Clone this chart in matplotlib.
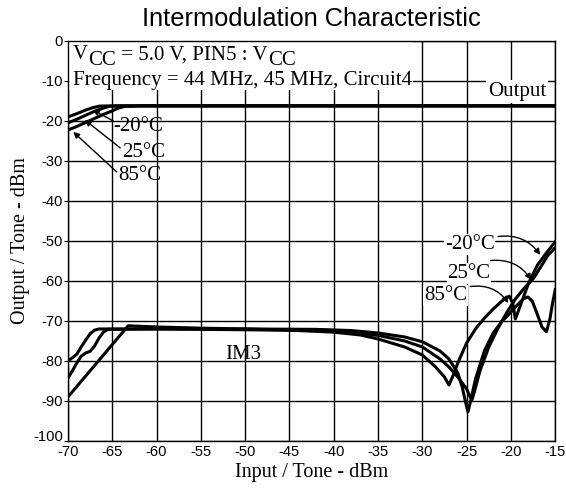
import matplotlib
matplotlib.use("Agg")
import matplotlib.pyplot as plt
import matplotlib.transforms as mtransforms
from matplotlib.patches import Rectangle

plt.rcParams['mathtext.fontset'] = 'custom'
plt.rcParams['mathtext.rm'] = 'Liberation Serif'
SERIF = 'Liberation Serif'
SANS = 'Liberation Sans'

# ---- data ----
x_ticks = [-70, -65, -60, -55, -50, -45, -40, -35, -30, -25, -20, -15]
y_ticks = [0, -10, -20, -30, -40, -50, -60, -70, -80, -90, -100]

# Output curves
out_m20_x = [-70, -69, -68, -67.2, -66.4, -65, -15]
out_m20_y = [-19.0, -18.2, -17.3, -16.7, -16.3, -16.25, -16.25]
out_25_x = [-70, -69, -68, -67, -66, -65.3, -64, -15]
out_25_y = [-20.5, -19.6, -18.6, -17.6, -16.8, -16.35, -16.25, -16.25]
out_85_x = [-70, -69, -68, -67, -66, -65, -64.3, -63.6, -62, -15]
out_85_y = [-22.3, -21.4, -20.4, -19.4, -18.4, -17.5, -16.8, -16.4, -16.25, -16.25]

# IM3 curves
im3_m20_x = [-70, -69.5, -69, -68.5, -68, -67.5, -67, -66.5, -60, -50, -42, -38, -35, -32,
             -30, -28, -27, -26, -25.5, -25.1, -24.85, -24.5, -24, -23, -22, -21, -20.5,
             -19.5, -18.6, -18.1, -17.6, -17, -16.5, -16, -15.6, -15.3, -15]
im3_m20_y = [-80, -79.2, -78.3, -76.5, -74.8, -73.2, -72.3, -72.0, -72.0, -72.0, -72.1, -72.4, -73.0, -74.0,
             -75.2, -77.5, -79.5, -83, -86.5, -90.5, -92.7, -89.5, -84.5, -77.5, -73.0, -70.0, -69.0,
             -66.5, -64.5, -64.0, -65.0, -68.5, -71.5, -72.7, -69.5, -65.5, -62.2]
im3_25_x = [-70, -69.5, -69, -68.5, -68, -67.5, -67, -66.5, -66, -65.5, -60, -50, -42, -38, -35,
            -32, -30, -28, -27, -26, -25, -24.6, -24.4, -24.1, -23.5, -22.5, -21.5, -20.5, -19.5,
            -18.5, -17.5, -16.5, -15.8, -15]
im3_25_y = [-84.25, -82.5, -80.5, -78.8, -78.0, -77.6, -76.3, -74.3, -72.8, -72.1, -72.0, -72.2, -72.4, -72.9, -73.6,
            -75.0, -76.5, -79.5, -81.5, -84.0, -87.0, -89.0, -89.7, -87.5, -82.5, -76.5, -72.0, -68.0, -64.5,
            -61.8, -59.5, -56.0, -53.5, -51.7]
im3_85_x = [-70, -63.2, -60, -55, -50, -45, -40, -37, -35, -32, -30, -28.5, -27.5, -27, -26.5,
            -26, -25, -24, -23, -22, -21, -20.2, -19.8, -19.5, -19.0, -18.0, -17.0, -16.0, -15]
im3_85_y = [-89, -71.2, -71.5, -71.8, -72.0, -72.3, -72.8, -73.5, -74.5, -76.5, -78.5, -81.5, -84.0, -86.0, -83.5,
            -80.5, -75.5, -72.0, -69.3, -67.0, -65.0, -63.8, -65.5, -69.5, -66.5, -60.5, -56.0, -53.0, -50.2]

fig = plt.figure(figsize=(5.66, 4.88), dpi=100)
ax = fig.add_axes([0.120, 0.0963, 0.861, 0.820])

ax.set_xlim(-70, -15)
ax.set_ylim(-100, 0)
ax.set_xticks(x_ticks)
ax.set_yticks(y_ticks)
ax.set_xticklabels([str(v) for v in x_ticks], fontfamily=SANS, fontsize=10.6)
ax.set_yticklabels([str(v) for v in y_ticks], fontfamily=SANS, fontsize=10.6)
ax.tick_params(axis='x', length=0, pad=3)
ax.tick_params(axis='y', length=3, pad=0.5)
# lift the -100 label a little so it clears the -70 label below it
lift = mtransforms.ScaledTranslation(0, 4 / 72, fig.dpi_scale_trans)
for lab in ax.get_yticklabels():
    if lab.get_text() == '-100':
        lab.set_transform(lab.get_transform() + lift)
ax.set_axisbelow(True)
ax.grid(True, color='black', linewidth=1.0)
for sp in ax.spines.values():
    sp.set_linewidth(1.0)

# white area behind the condition text
ax.add_patch(Rectangle((-70, -12.3), 38.9, 12.3, facecolor='white', edgecolor='none', zorder=1.5))

lw = 2.2
ax.plot(out_m20_x, out_m20_y, color='black', lw=lw, zorder=3)
ax.plot(out_25_x, out_25_y, color='black', lw=lw, zorder=3)
ax.plot(out_85_x, out_85_y, color='black', lw=lw, zorder=3)
ax.plot(im3_m20_x, im3_m20_y, color='black', lw=lw, zorder=3)
ax.plot(im3_25_x, im3_25_y, color='black', lw=lw, zorder=3)
ax.plot(im3_85_x, im3_85_y, color='black', lw=lw, zorder=3)

fs = 15
t1 = ax.text(-69.4, -4.6, 'V', fontfamily=SERIF, fontsize=fs, zorder=4)
t2 = ax.annotate('CC', xy=(1, 0), xycoords=t1, xytext=(0, -4), textcoords='offset points',
                 fontfamily=SERIF, fontsize=fs, va='bottom', zorder=4)
t3 = ax.annotate(' = 5.0 V, PIN5 : V', xy=(1, 0), xycoords=t2, xytext=(0, 4), textcoords='offset points',
                 fontfamily=SERIF, fontsize=fs, va='bottom', zorder=4)
ax.annotate('CC', xy=(1, 0), xycoords=t3, xytext=(0, -4), textcoords='offset points',
            fontfamily=SERIF, fontsize=fs, va='bottom', zorder=4)
ax.text(-69.4, -11.0, 'Frequency = 44 MHz, 45 MHz, Circuit4', fontfamily=SERIF, fontsize=fs, zorder=4)

ax.text(-22.6, -13.75, 'Output', fontfamily=SERIF, fontsize=fs, zorder=4,
        bbox=dict(facecolor='white', edgecolor='none', pad=1.5))
ax.text(-52.2, -79.5, 'IM3', fontfamily=SERIF, fontsize=fs, zorder=4)

# temperature labels with arrows (left, output)
arr = dict(arrowstyle='-|>', color='black', lw=1.0, mutation_scale=9, shrinkA=0, shrinkB=0)
ax.text(-64.9, -22.5, '-20°C', fontfamily=SERIF, fontsize=fs, zorder=4)
ax.text(-63.9, -29.0, '25°C', fontfamily=SERIF, fontsize=fs, zorder=4)
ax.text(-64.35, -34.75, '85°C', fontfamily=SERIF, fontsize=fs, zorder=4)
ax.annotate('', xy=(-67.2, -17.25), xytext=(-64.9, -20.0), arrowprops=arr, zorder=4)
ax.annotate('', xy=(-68.1, -19.75), xytext=(-64.1, -26.75), arrowprops=arr, zorder=4)
ax.annotate('', xy=(-69.4, -22.75), xytext=(-64.5, -32.75), arrowprops=arr, zorder=4)

# temperature labels with arrows (right, IM3)
ax.text(-27.45, -52.0, '-20°C', fontfamily=SERIF, fontsize=fs, zorder=4,
        bbox=dict(facecolor='white', edgecolor='none', pad=0.5))
ax.text(-27.2, -59.25, '25°C', fontfamily=SERIF, fontsize=fs, zorder=4,
        bbox=dict(facecolor='white', edgecolor='none', pad=0.5))
ax.text(-29.8, -64.75, '85°C', fontfamily=SERIF, fontsize=fs, zorder=4,
        bbox=dict(facecolor='white', edgecolor='none', pad=0.5))
carr = dict(arr, connectionstyle='arc3,rad=-0.3')
ax.annotate('', xy=(-16.7, -53.5), xytext=(-21.45, -48.9), arrowprops=carr, zorder=4)
ax.annotate('', xy=(-17.7, -59.75), xytext=(-22.3, -54.9), arrowprops=carr, zorder=4)
ax.annotate('', xy=(-20.3, -65.5), xytext=(-24.6, -61.4), arrowprops=carr, zorder=4)

ax.set_xlabel('Input / Tone - dBm', fontfamily=SERIF, fontsize=14.5, labelpad=3)
ax.set_ylabel('Output / Tone - dBm', fontfamily=SERIF, fontsize=14.5)
ax.yaxis.set_label_coords(-0.078, 0.5)
fig.text(0.551, 0.962, 'Intermodulation Characteristic', fontfamily=SANS, fontsize=18.3,
         ha='center', va='center')

fig.savefig('out.png', dpi=100)
